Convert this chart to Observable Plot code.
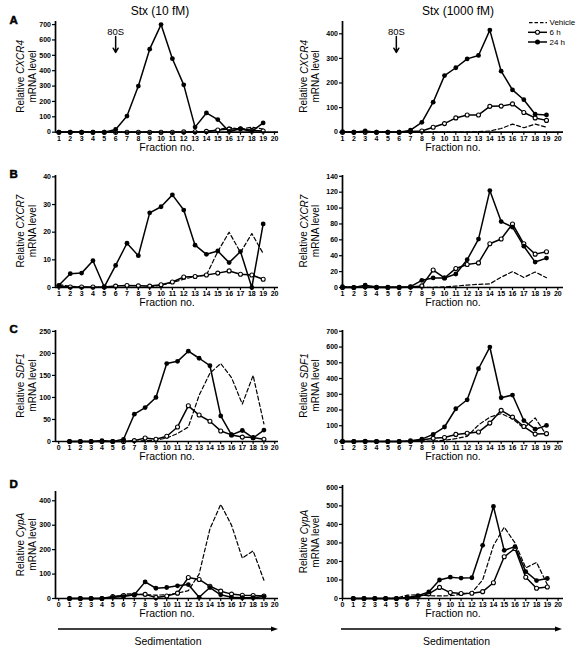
<!DOCTYPE html>
<html><head><meta charset="utf-8">
<script src="https://cdn.jsdelivr.net/npm/d3@7"></script>
<script src="https://cdn.jsdelivr.net/npm/@observablehq/plot@0.6"></script>
<style>
body{margin:0;background:#fff;}
#fig{position:relative;width:579px;height:655px;font-family:"Liberation Sans",Arial,sans-serif;color:#000;overflow:hidden;background:#fff}
#fig svg{position:absolute;overflow:visible}
</style></head><body><div id="fig"></div>
<script>
// ---------- data ----------
const fractions = [1,2,3,4,5,6,7,8,9,10,11,12,13,14,15,16,17,18,19];
const doseTitles = ["Stx (10 fM)", "Stx (1000 fM)"];
const panelLetters = ["A","B","C","D"];
const geneNames = ["CXCR4","CXCR7","SDF1","CypA"];
const seriesNames = ["Vehicle","6 h","24 h"];
const annot80S = {label: "80S", leftFraction: 6, rightFraction: 5.75};

const vehicle_CXCR4   = [0,0,0,0,0,0,0,0,0,0,0,0,2,5,15,33,18,33,20];
const h6_CXCR4_10fM   = [0,0,0,0,0,0,0,0,0,0,0,2,3,5,14,20,22,12,8];
const h24_CXCR4_10fM  = [0,0,0,0,0,18,105,300,540,700,478,308,33,125,82,5,22,5,60];
const h6_CXCR4_1000fM = [0,0,0,0,0,0,3,5,20,35,58,70,70,105,106,115,80,58,48];
const h24_CXCR4_1000fM= [2,0,5,0,0,0,8,40,122,230,262,298,312,415,248,172,132,73,70];

const vehicle_CXCR7   = [1,0.5,0.2,0,0,0,0,0,0.2,0.8,1.8,3,4,4.5,13,20,12.7,19.5,12.3];
const h6_CXCR7_10fM   = [0.5,0.2,0.2,0.2,0.2,0.5,0.7,0.6,0.5,1.0,2.0,3.8,4,4.5,5.2,6,4.8,4.5,3.0];
const h24_CXCR7_10fM  = [0.8,5,5.2,9.7,0.2,8,16,11.5,27,29.2,33.5,28,15.3,12,13.2,9,13,0,23];
const h6_CXCR7_1000fM = [0,0,1,0,0,0,0.5,2,22,12,24,29,31,55,61,80,55,42,45];
const h24_CXCR7_1000fM= [1,0,3,0.5,0.5,0.5,1,9,12,12,17,35,61,122,83,76,52,32,37];

const vehicle_SDF1    = [0,0,0,0,0,0,0,2,3,8,18,33,105,155,177,145,85,150,40];
const h6_SDF1_10fM    = [0,0,0,0,0,0,2,8,5,12,33,81,60,46,24,15,10,9,5];
const h24_SDF1_10fM   = [0,0,0,2,0,5,62,77,100,177,182,205,189,172,58,15,25,8,26];
const h6_SDF1_1000fM  = [0,0,0,0,0,0,2,10,20,25,45,52,60,117,198,155,95,47,50];
const h24_SDF1_1000fM = [0,0,3,0,0,0,5,15,45,92,208,265,462,600,278,295,133,78,102];

const vehicle_CypA    = [0,0,0,0,2,18,20,15,14,15,22,32,100,285,385,300,165,195,75];
const h6_CypA_10fM    = [0,0,0,0,8,12,15,17,4,10,22,86,78,50,30,18,13,12,10];
const h24_CypA_10fM   = [0,0,0,0,5,8,15,68,42,45,52,57,5,45,15,5,3,3,8];
const h6_CypA_1000fM  = [0,0,0,0,0,3,10,25,60,32,27,28,37,85,225,270,115,55,62];
const h24_CypA_1000fM = [0,0,0,0,0,5,15,35,100,115,110,112,287,497,260,280,145,97,108];

const ticks1to20 = [1,2,3,4,5,6,7,8,9,10,11,12,13,14,15,16,17,18,19,20];
const ticks0to20 = [0,1,2,3,4,5,6,7,8,9,10,11,12,13,14,15,16,17,18,19,20];
const yTicks_CXCR4_10 = [0,100,200,300,400,500,600,700];
const yTicks_CXCR4_1000 = [0,100,200,300,400];
const yTicks_CXCR7_10 = [0,10,20,30,40];
const yTicks_CXCR7_1000 = [0,20,40,60,80,100,120,140];
const yTicks_SDF1_10 = [0,50,100,150,200,250];
const yTicks_SDF1_1000 = [0,100,200,300,400,500,600,700];
const yTicks_CypA_10 = [0,100,200,300,400];
const yTicks_CypA_1000 = [0,100,200,300,400,500,600];

// ---------- layout ----------
const layout = {
  left:  {x: 0,   width: 290, ml: 55, mr: 12, ylab: 26},
  right: {x: 290, width: 289, ml: 52, mr: 16, ylab: 309.5}
};
const panels = [
  {row:0, side:"left",  veh:vehicle_CXCR4, h6:h6_CXCR4_10fM,   h24:h24_CXCR4_10fM,   yTicks:yTicks_CXCR4_10,   yMax:720, xTicks:ticks1to20, xDomain:[0.7,20.35], top:21,  bottom:131.7, arrow80:true},
  {row:0, side:"right", veh:vehicle_CXCR4, h6:h6_CXCR4_1000fM, h24:h24_CXCR4_1000fM, yTicks:yTicks_CXCR4_1000, yMax:450, xTicks:ticks1to20, xDomain:[1,20.5],    top:21,  bottom:131.7, arrow80:true},
  {row:1, side:"left",  veh:vehicle_CXCR7, h6:h6_CXCR7_10fM,   h24:h24_CXCR7_10fM,   yTicks:yTicks_CXCR7_10,   yMax:40.5,xTicks:ticks1to20, xDomain:[0.7,20.35], top:175, bottom:287},
  {row:1, side:"right", veh:vehicle_CXCR7, h6:h6_CXCR7_1000fM, h24:h24_CXCR7_1000fM, yTicks:yTicks_CXCR7_1000, yMax:141, xTicks:ticks1to20, xDomain:[1,20.5],    top:175, bottom:287},
  {row:2, side:"left",  veh:vehicle_SDF1,  h6:h6_SDF1_10fM,    h24:h24_SDF1_10fM,    yTicks:yTicks_SDF1_10,    yMax:252, xTicks:ticks0to20, xDomain:[-0.3,20.35],top:330, bottom:441},
  {row:2, side:"right", veh:vehicle_SDF1,  h6:h6_SDF1_1000fM,  h24:h24_SDF1_1000fM,  yTicks:yTicks_SDF1_1000,  yMax:705, xTicks:ticks1to20, xDomain:[1,20.5],    top:330, bottom:441},
  {row:3, side:"left",  veh:vehicle_CypA,  h6:h6_CypA_10fM,    h24:h24_CypA_10fM,    yTicks:yTicks_CypA_10,    yMax:438, xTicks:ticks0to20, xDomain:[-0.3,20.35],top:491, bottom:598},
  {row:3, side:"right", veh:vehicle_CypA,  h6:h6_CypA_1000fM,  h24:h24_CypA_1000fM,  yTicks:yTicks_CypA_1000,  yMax:610, xTicks:ticks0to20, xDomain:[0,20.5],    top:485, bottom:598}
];

const fig = document.getElementById("fig");
const FONT = '"Liberation Sans", Arial, sans-serif';
const mk = arr => fractions.map((f, i) => ({f, v: arr[i]}));

panels.forEach(p => {
  const L = layout[p.side];
  const mt = 10, mb = 30;
  const frameH = p.bottom - p.top;
  const height = frameH + mt + mb;
  const veh = mk(p.veh), s6 = mk(p.h6), s24 = mk(p.h24);
  const marks = [
    Plot.line(veh, {x: "f", y: "v", stroke: "#000", strokeWidth: 1.2, strokeDasharray: "4,2.5"}),
    Plot.line(s6, {x: "f", y: "v", stroke: "#000", strokeWidth: 1.5}),
    Plot.line(s24, {x: "f", y: "v", stroke: "#000", strokeWidth: 1.5}),
    Plot.dot(s6, {x: "f", y: "v", r: 2, fill: "#fff", stroke: "#000", strokeWidth: 1.1}),
    Plot.dot(s24, {x: "f", y: "v", r: 2.4, fill: "#000"}),
    Plot.ruleY([0], {stroke: "#000", strokeWidth: 1.7}),
    Plot.ruleX([p.xDomain[0]], {stroke: "#000", strokeWidth: 1.7}),
    Plot.axisY(p.yTicks, {tickSize: 3, tickPadding: 1.5, strokeWidth: 1.2, fontSize: 7, fontWeight: "bold", label: null}),
    Plot.axisX(p.xTicks, {tickSize: 3, tickPadding: 1, strokeWidth: 1.2, fontSize: 7, fontWeight: "bold", label: null}),
    Plot.text(["Fraction no."], {frameAnchor: "bottom", lineAnchor: "middle", dy: 15.5, fontSize: 10.5})
  ];
  if (p.arrow80) {
    const fx = p.side === "left" ? annot80S.leftFraction : annot80S.rightFraction;
    marks.push(Plot.text([annot80S], {x: () => fx, frameAnchor: "top", lineAnchor: "middle", dy: 10, text: "label", fontSize: 9.5}));
    marks.push(Plot.arrow([annot80S], {x1: () => fx, x2: () => fx,
      y1: () => p.yMax * (1 - 15 / frameH), y2: () => p.yMax * (1 - 31 / frameH),
      stroke: "#000", strokeWidth: 1.5, headLength: 5}));
  }
  const svg = Plot.plot({
    width: L.width, height, marginTop: mt, marginBottom: mb, marginLeft: L.ml, marginRight: L.mr,
    x: {domain: p.xDomain, label: null},
    y: {domain: [0, p.yMax], label: null},
    style: {fontFamily: FONT, background: "transparent", overflow: "visible", color: "#000"},
    marks
  });
  svg.style.left = L.x + "px";
  svg.style.top = (p.top - mt) + "px";
  fig.appendChild(svg);
});

// ---------- overlay text: titles, letters, y labels, legend, sedimentation ----------
let o = `<svg width="579" height="655" style="left:0;top:0;font-family:${FONT}" xmlns="http://www.w3.org/2000/svg">`;
o += `<text x="160" y="15" text-anchor="middle" font-size="12">${doseTitles[0]}</text>`;
o += `<text x="458" y="15" text-anchor="middle" font-size="12">${doseTitles[1]}</text>`;
const letterBase = [23.5, 177.5, 332.5, 487.5];
panelLetters.forEach((t, i) => { o += `<text x="9.5" y="${letterBase[i]}" font-size="11.5" font-weight="900" stroke="#000" stroke-width="0.5">${t}</text>`; });
panels.forEach(p => {
  const L = layout[p.side];
  const cy = (p.top + p.bottom) / 2;
  const gene = geneNames[p.row];
  o += `<text transform="translate(${L.ylab - 6},${cy}) rotate(-90)" text-anchor="middle" dominant-baseline="central" font-size="10">Relative <tspan font-style="italic">${gene}</tspan></text>`;
  o += `<text transform="translate(${L.ylab + 6},${cy}) rotate(-90)" text-anchor="middle" dominant-baseline="central" font-size="10">mRNA level</text>`;
});
// legend
const legY = [22.7, 32.3, 42];
o += `<line x1="529" x2="547" y1="${legY[0]}" y2="${legY[0]}" stroke="#000" stroke-width="1.2" stroke-dasharray="3.5,2"/>`;
o += `<line x1="528" x2="547" y1="${legY[1]}" y2="${legY[1]}" stroke="#000" stroke-width="1.5"/>`;
o += `<circle cx="537.5" cy="${legY[1]}" r="2" fill="#fff" stroke="#000" stroke-width="1.1"/>`;
o += `<line x1="528" x2="547" y1="${legY[2]}" y2="${legY[2]}" stroke="#000" stroke-width="1.5"/>`;
o += `<circle cx="537.5" cy="${legY[2]}" r="2.5" fill="#000"/>`;
seriesNames.forEach((s, i) => { o += `<text x="549.5" y="${legY[i]}" dominant-baseline="central" font-size="8">${s}</text>`; });
// sedimentation arrows
[[58, 278, 168], [341, 562, 456.5]].forEach(([x1, x2, cx]) => {
  o += `<line x1="${x1}" x2="${x2 - 5}" y1="629" y2="629" stroke="#000" stroke-width="1.3"/>`;
  o += `<polygon points="${x2},629 ${x2 - 7},626.6 ${x2 - 7},631.4" fill="#000"/>`;
  o += `<text x="${cx}" y="641" text-anchor="middle" dominant-baseline="central" font-size="10.5">Sedimentation</text>`;
});
o += `</svg>`;
fig.insertAdjacentHTML("beforeend", o);
</script>
</body></html>
